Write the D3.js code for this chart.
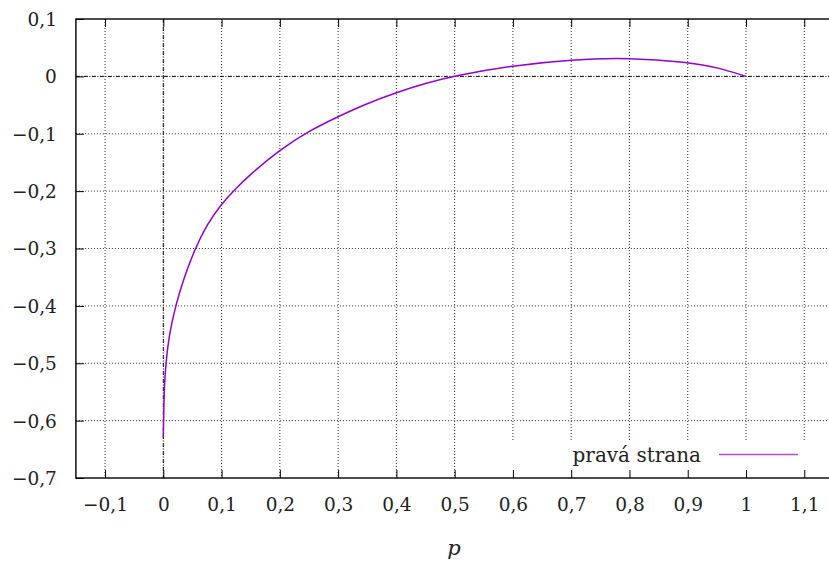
<!DOCTYPE html>
<html>
<head>
<meta charset="utf-8">
<script src="https://cdn.jsdelivr.net/npm/d3@7"></script>
<style>
  body { margin: 0; background: #fff; }
  svg text { font-family: "DejaVu Serif", "Liberation Serif", serif; fill: #222; }
</style>
</head>
<body>
<div class="visHolder"></div>
<script>
// values
let pValues = [0, 0.0003, 0.001, 0.002, 0.0045, 0.01, 0.021, 0.035, 0.0546, 0.075, 0.1, 0.121, 0.15, 0.2, 0.25, 0.3, 0.35, 0.4, 0.45, 0.5, 0.6, 0.7, 0.8, 0.9, 0.95, 1.0];
let rightSide = [-0.63, -0.61, -0.575, -0.535, -0.5, -0.45, -0.4, -0.352, -0.3, -0.258, -0.222, -0.199, -0.17, -0.128, -0.095, -0.07, -0.047, -0.028, -0.012, 0.001, 0.019, 0.0296, 0.0325, 0.025, 0.016, 0];
let xTicks = [-0.1, 0, 0.1, 0.2, 0.3, 0.4, 0.5, 0.6, 0.7, 0.8, 0.9, 1, 1.1];
let yTicks = [0.1, 0, -0.1, -0.2, -0.3, -0.4, -0.5, -0.6, -0.7];
let legendLabel = "pravá strana";
let xLabel = "p";

let width = 829;
let height = 561;
let plotLeft = 75.9, plotRight = 833.4, plotTop = 19, plotBottom = 478;

let svg = d3
  .select(".visHolder")
  .append("svg")
  .attr("width", width)
  .attr("height", height);

let xScale = d3.scaleLinear().domain([-0.15, 1.15]).range([plotLeft, plotRight]);
let yScale = d3.scaleLinear().domain([-0.7, 0.1]).range([plotBottom, plotTop]);

let fmt = (d) => (d < 0 ? "\u2212" : "") + String(Math.abs(d)).replace(".", ",");

// grid
let grid = svg.append("g").attr("class", "grid");
xTicks.forEach(function (t) {
  if (t === 0) return;
  grid.append("line")
    .attr("x1", xScale(t)).attr("x2", xScale(t))
    .attr("y1", plotTop).attr("y2", plotBottom)
    .attr("stroke", "#333").attr("stroke-width", 1)
    .attr("stroke-dasharray", "1,2");
});
yTicks.forEach(function (t) {
  if (t === 0 || t === 0.1 || t === -0.7) return;
  grid.append("line")
    .attr("x1", plotLeft).attr("x2", plotRight)
    .attr("y1", yScale(t)).attr("y2", yScale(t))
    .attr("stroke", "#333").attr("stroke-width", 1)
    .attr("stroke-dasharray", "1,2");
});

// zero axes (dash-dot)
svg.append("line")
  .attr("x1", plotLeft).attr("x2", plotRight)
  .attr("y1", yScale(0)).attr("y2", yScale(0))
  .attr("stroke", "#000").attr("stroke-dasharray", "4,1.5,1,1.5");
svg.append("line")
  .attr("x1", xScale(0)).attr("x2", xScale(0))
  .attr("y1", plotTop).attr("y2", plotBottom)
  .attr("stroke", "#000").attr("stroke-dasharray", "4,1.5,1,1.5");

// legend box covers the grid
svg.append("rect")
  .attr("x", 480).attr("y", 441)
  .attr("width", plotRight - 480).attr("height", plotBottom - 441)
  .attr("fill", "#fff");

// axes with inward ticks
let xAxis = d3.axisBottom(xScale).tickValues(xTicks).tickSize(-8).tickPadding(20).tickFormat(fmt);
let xAxisTop = d3.axisTop(xScale).tickValues(xTicks).tickSize(-8).tickFormat("");
let yAxis = d3.axisLeft(yScale).tickValues(yTicks).tickSize(-8).tickPadding(19).tickFormat(fmt);

svg.append("g").attr("id", "x-axis")
  .attr("transform", "translate(0," + plotBottom + ")")
  .call(xAxis);
svg.append("g").attr("id", "x-axis-top")
  .attr("transform", "translate(0," + plotTop + ")")
  .call(xAxisTop);
svg.append("g").attr("id", "y-axis")
  .attr("transform", "translate(" + plotLeft + ",0)")
  .call(yAxis);

svg.selectAll(".domain").remove();
svg.selectAll(".tick line").attr("stroke", "#000").attr("stroke-width", 1);
svg.selectAll(".tick text")
  .attr("font-size", 18.5)
  .attr("fill", "#222")
  .style("font-family", "'DejaVu Serif', serif");
svg.select("#y-axis").selectAll(".tick text").attr("dy", "0.35em");

// frame
svg.append("rect")
  .attr("x", plotLeft).attr("y", plotTop)
  .attr("width", plotRight - plotLeft).attr("height", plotBottom - plotTop)
  .attr("fill", "none").attr("stroke", "#000").attr("stroke-width", 1.4);

// curve
let line = d3.line()
  .x((d, i) => xScale(pValues[i]))
  .y((d) => yScale(d))
  .curve(d3.curveBasis);

svg.append("path")
  .datum(rightSide)
  .attr("d", line)
  .attr("fill", "none")
  .attr("stroke", "#9400d3")
  .attr("stroke-width", 1.5);

// legend
svg.append("text")
  .attr("x", 701).attr("y", 462)
  .attr("text-anchor", "end")
  .attr("font-size", 20)
  .style("font-family", "'DejaVu Serif', serif")
  .text(legendLabel);
svg.append("line")
  .attr("x1", 719).attr("x2", 798)
  .attr("y1", 454.5).attr("y2", 454.5)
  .attr("stroke", "#9400d3").attr("stroke-opacity", 0.7).attr("stroke-width", 1.5);

// x label
svg.append("text")
  .attr("x", 454).attr("y", 555)
  .attr("text-anchor", "middle")
  .attr("font-size", 21)
  .attr("font-style", "italic")
  .style("font-family", "'DejaVu Serif', serif")
  .text(xLabel);
</script>
</body>
</html>
